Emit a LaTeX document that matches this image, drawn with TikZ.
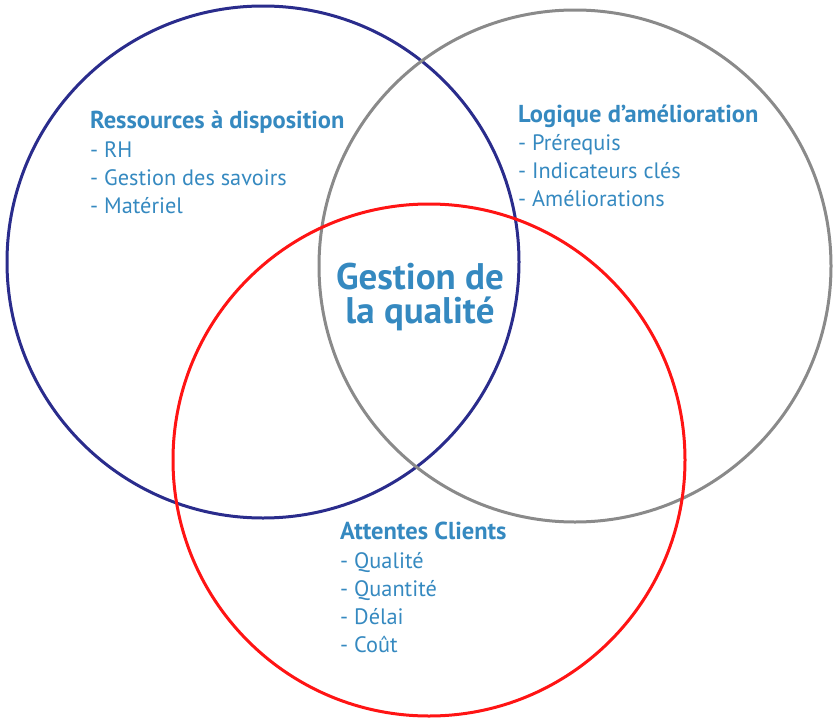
\documentclass[tikz,border=0pt]{standalone}
\usepackage{fontspec}
\setmainfont{PT Sans}
\definecolor{txt}{HTML}{3589C0}
\definecolor{navy}{HTML}{2A2C8C}
\definecolor{grey}{HTML}{8A8A8A}
\definecolor{redc}{HTML}{FF1414}
\begin{document}
\begin{tikzpicture}[x=1pt,y=-1pt,
  ring/.style={line width=3pt},
  head/.style={anchor=base west,inner sep=0pt,text=txt,font=\fontsize{24.5}{28}\selectfont\bfseries},
  item/.style={anchor=base west,inner sep=0pt,text=txt,font=\fontsize{22.3}{26}\selectfont},
  big/.style={anchor=base,inner sep=0pt,text=txt,font=\fontsize{37}{40}\selectfont\bfseries}]
\useasboundingbox (0,0) rectangle (833,720);
\draw[ring,navy] (263,262) circle[radius=256];
\draw[ring,grey] (575,266) circle[radius=256];
\draw[ring,redc] (429,460) circle[radius=256];
% left block
\node[head] (r0) at (90,128) {Ressources à disposition};
\node[item] (r1) at (90,157) {- RH};
\node[item] (r2) at (90,185) {- Gestion des savoirs};
\node[item] (r3) at (90,213) {- Matériel};
% right block
\node[head] (l0) at (518,122) {Logique d’amélioration};
\node[item] (l1) at (518,150) {- Prérequis};
\node[item] (l2) at (518,178) {- Indicateurs clés};
\node[item] (l3) at (518,206) {- Améliorations};
% centre
\node[big] (c1) at (420,289) {Gestion de};
\node[big] (c2) at (420,323) {la qualité};
% bottom block
\node[head] (a0) at (340,539) {Attentes Clients};
\node[item] (a1) at (340,568) {- Qualité};
\node[item] (a2) at (340,596) {- Quantité};
\node[item] (a3) at (340,624) {- Délai};
\node[item] (a4) at (340,652) {- Coût};
\end{tikzpicture}
\end{document}
